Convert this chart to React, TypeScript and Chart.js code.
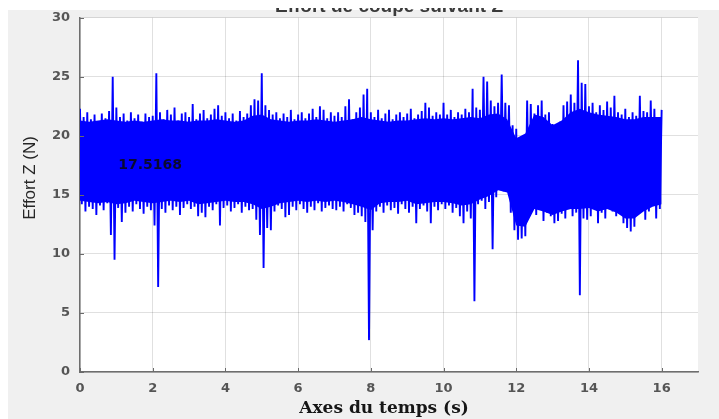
import React, { useEffect, useRef } from "react";
import { Chart, registerables } from "chart.js";

Chart.register(...registerables);

// Sampling of the read envelope: a peak at t = i*STEP, a trough at t = i*STEP + STEP/2
const T_STEP = 0.1;

// Upper peaks of the signal (N), one per 0.1 s from 0.0 s to 16.0 s
const HIGH_PEAKS = [
  22.3, 21.6, 22.0, 21.4, 21.8, 21.2, 21.9, 21.5, 22.1, 25.0,
  22.4, 21.6, 21.9, 21.3, 22.0, 21.5, 21.8, 21.2, 21.9, 21.6,
  21.7, 25.3, 22.0, 21.4, 22.2, 21.8, 22.4, 21.3, 21.9, 22.0,
  21.6, 22.7, 21.4, 21.9, 22.2, 21.5, 21.8, 22.3, 22.6, 21.7,
  22.0, 21.5, 21.9, 21.3, 22.1, 21.6, 21.9, 22.6, 23.1, 23.0,
  25.3, 22.6, 22.2, 21.8, 22.0, 21.5, 21.9, 21.6, 22.2, 21.4,
  21.8, 22.0, 21.5, 21.9, 22.3, 21.6, 22.5, 22.2, 21.5, 22.0,
  21.7, 22.0, 21.6, 22.5, 23.1, 21.4, 22.0, 22.4, 23.5, 24.0,
  22.0, 21.6, 22.2, 21.5, 21.9, 22.2, 21.4, 21.8, 22.0, 21.6,
  21.9, 22.3, 21.5, 21.8, 22.1, 22.8, 22.4, 21.7, 22.0, 21.8,
  22.8, 21.8, 22.2, 21.6, 22.0, 21.8, 22.3, 22.0, 24.0, 22.4,
  22.2, 25.0, 24.6, 23.0, 22.5, 22.8, 25.2, 22.8, 22.6, 20.9,
  20.6, 19.4, 20.0, 23.0, 22.7, 21.9, 22.6, 23.0, 21.8, 22.0,
  21.0, 20.5, 21.2, 22.6, 22.9, 23.5, 22.8, 26.4, 24.5, 24.4,
  22.5, 22.8, 22.0, 22.6, 22.2, 22.9, 22.4, 23.4, 22.0, 21.8,
  22.3, 21.6, 22.0, 21.7, 23.4, 22.1, 22.0, 23.0, 22.3, 21.6,
  22.2,
];

// Lower troughs of the signal (N), one per 0.1 s from 0.05 s to 15.95 s
const LOW_TROUGHS = [
  14.2, 13.6, 14.0, 13.8, 13.3, 14.1, 13.7, 14.3, 11.6, 9.5,
  13.9, 12.7, 13.5, 14.0, 13.6, 14.2, 13.8, 13.4, 14.0, 13.7,
  12.4, 7.2, 13.8, 13.5, 14.1, 13.7, 14.0, 13.3, 13.9, 14.2,
  13.8, 14.0, 13.2, 13.5, 13.1, 14.0, 13.7, 14.2, 12.4, 13.9,
  14.1, 13.6, 13.9, 14.2, 13.5, 14.0, 13.7, 13.8, 12.9, 11.6,
  8.8, 12.2, 12.0, 13.6, 14.1, 13.8, 13.1, 13.3, 14.0, 13.7,
  14.2, 13.8, 13.5, 14.0, 13.7, 14.3, 13.6, 13.9, 14.1, 13.8,
  13.7, 14.0, 13.6, 14.2, 13.9, 13.3, 13.5, 13.2, 12.7, 2.7,
  12.0, 13.6, 14.0, 13.5, 14.1, 13.7, 13.9, 13.4, 14.2, 13.8,
  13.5, 14.0, 12.6, 13.8, 14.1, 13.6, 12.6, 14.0, 13.7, 14.2,
  13.8, 14.1, 13.5, 13.9, 13.2, 12.6, 13.6, 13.0, 6.0, 14.2,
  14.5, 13.8, 14.4, 10.4, 14.8, 15.5, 15.3, 15.6, 13.5, 12.0,
  11.2, 11.3, 11.5, 13.6, 14.0, 13.3, 13.8, 12.8, 13.5, 13.2,
  12.6, 12.8, 13.4, 13.0, 13.8, 13.2, 13.5, 6.5, 13.0, 12.9,
  13.2, 14.0, 12.6, 13.5, 13.0, 14.1, 13.6, 13.2, 14.0, 12.6,
  12.2, 11.9, 12.3, 13.4, 14.0, 12.9, 13.6, 14.2, 13.0, 13.8,
];

// Solid (dense) part of the signal band, read every 0.25 s from 0 s to 16 s
const CORE_STEP = 0.25;
const CORE_TOP = [
  21.3, 21.2, 21.3, 21.4, 21.3, 21.2, 21.3, 21.2, 21.3, 21.4,
  21.3, 21.3, 21.2, 21.3, 21.3, 21.4, 21.3, 21.2, 21.3, 21.7,
  21.8, 21.4, 21.3, 21.2, 21.3, 21.3, 21.4, 21.3, 21.2, 21.3,
  21.4, 21.6, 21.4, 21.3, 21.2, 21.3, 21.3, 21.4, 21.5, 21.4,
  21.5, 21.4, 21.5, 21.6, 21.5, 21.8, 21.9, 21.4, 19.8, 20.2,
  21.8, 21.6, 20.9, 21.3, 22.0, 22.3, 22.0, 21.8, 21.7, 21.6,
  21.4, 21.4, 21.6, 21.6, 21.6,
];
const CORE_BOTTOM = [
  14.5, 14.4, 14.3, 14.4, 14.2, 14.3, 14.5, 14.4, 14.3, 14.4,
  14.5, 14.4, 14.5, 14.2, 14.3, 14.4, 14.5, 14.4, 14.4, 14.2,
  13.8, 14.0, 14.3, 14.4, 14.5, 14.4, 14.5, 14.4, 14.5, 14.4,
  14.2, 14.0, 13.7, 14.3, 14.4, 14.4, 14.5, 14.2, 14.3, 14.4,
  14.4, 14.3, 14.1, 14.2, 14.6, 14.9, 15.4, 15.2, 12.4, 12.3,
  13.8, 13.6, 13.3, 13.6, 13.8, 13.8, 13.9, 13.6, 13.8, 13.5,
  13.0, 13.0, 13.6, 14.0, 14.2,
];

const X_MIN = 0;
const X_MAX = 17;
const X_STEP = 2;
const Y_MIN = 0;
const Y_MAX = 30;
const Y_STEP = 5;

const TITLE = "Effort de coupe suivant Z";
const X_TITLE = "Axes du temps (s)";
const Y_TITLE = "Effort Z (N)";
const MEAN_LABEL = "17.5168";
const MEAN_VALUE = 17.5168;
const MEAN_LABEL_T = 1.05;

const W = 719;
const H = 419;

export default function App() {
  const ref = useRef<HTMLCanvasElement | null>(null);

  useEffect(() => {
    const canvas = ref.current;
    if (!canvas) return;

    const points: { x: number; y: number }[] = [];
    for (let i = 0; i < HIGH_PEAKS.length; i++) {
      points.push({ x: i * T_STEP, y: HIGH_PEAKS[i] });
      if (i < LOW_TROUGHS.length) points.push({ x: i * T_STEP + T_STEP / 2, y: LOW_TROUGHS[i] });
    }
    const coreTop = CORE_TOP.map((v, i) => ({ x: i * CORE_STEP, y: v }));
    const coreBottom = CORE_BOTTOM.map((v, i) => ({ x: i * CORE_STEP, y: v }));

    const deco = {
      id: "deco",
      beforeDraw(chart: any) {
        const { ctx, chartArea: a, width, height } = chart;
        ctx.save();
        ctx.fillStyle = "#ffffff";
        ctx.fillRect(0, 0, width, height);
        ctx.fillStyle = "#f0f0f0";
        ctx.fillRect(8, 10, width - 8, height - 10);
        ctx.fillStyle = "#ffffff";
        ctx.fillRect(a.left, a.top, a.right - a.left, a.bottom - a.top);
        // title, cut off at the top as in the reference
        ctx.beginPath();
        ctx.rect(0, 8, width, 8);
        ctx.clip();
        ctx.fillStyle = "#3a3a3a";
        ctx.font = 'bold 19px "Liberation Sans", Arial, sans-serif';
        ctx.textAlign = "center";
        ctx.textBaseline = "alphabetic";
        ctx.fillText(TITLE, (a.left + a.right) / 2, 12);
        ctx.restore();
      },
      afterDraw(chart: any) {
        const { ctx, chartArea: a } = chart;
        const xs = chart.scales.x;
        const ys = chart.scales.y;
        ctx.save();
        // inward tick marks
        ctx.strokeStyle = "#6a6a6a";
        ctx.lineWidth = 1;
        ys.ticks.forEach((t: any) => {
          const y = Math.round(ys.getPixelForValue(t.value)) + 0.5;
          ctx.beginPath();
          ctx.moveTo(a.left, y);
          ctx.lineTo(a.left + 4, y);
          ctx.stroke();
        });
        xs.ticks.forEach((t: any) => {
          const x = Math.round(xs.getPixelForValue(t.value)) + 0.5;
          ctx.beginPath();
          ctx.moveTo(x, a.bottom);
          ctx.lineTo(x, a.bottom - 4);
          ctx.stroke();
        });
        // mean value label
        ctx.fillStyle = "#0a0a30";
        ctx.font = 'bold 14px "DejaVu Sans", sans-serif';
        ctx.textAlign = "left";
        ctx.textBaseline = "middle";
        ctx.fillText(MEAN_LABEL, xs.getPixelForValue(MEAN_LABEL_T), ys.getPixelForValue(MEAN_VALUE));
        // x title
        ctx.fillStyle = "#161616";
        ctx.font = 'bold 17px "DejaVu Serif", serif';
        ctx.textAlign = "center";
        ctx.textBaseline = "alphabetic";
        ctx.fillText(X_TITLE, 384, 413);
        // y title
        ctx.translate(30, 178);
        ctx.rotate(-Math.PI / 2);
        ctx.fillStyle = "#262626";
        ctx.font = '17px "Liberation Sans", Arial, sans-serif';
        ctx.textAlign = "center";
        ctx.textBaseline = "middle";
        ctx.fillText(Y_TITLE, 0, 0);
        ctx.restore();
      },
    };

    const tickFont = { family: '"DejaVu Sans", sans-serif', size: 13, weight: "bold" as const };

    const chart = new Chart(canvas, {
      type: "line",
      data: {
        datasets: [
          {
            label: "Effort Z",
            data: points,
            borderColor: "#0000ff",
            borderWidth: 1.9,
            pointRadius: 0,
            tension: 0,
            fill: false,
          },
          {
            label: "core top",
            data: coreTop,
            borderWidth: 0,
            borderColor: "rgba(0,0,0,0)",
            backgroundColor: "#0000ff",
            pointRadius: 0,
            tension: 0,
            fill: "+1",
          },
          {
            label: "core bottom",
            data: coreBottom,
            borderWidth: 0,
            borderColor: "rgba(0,0,0,0)",
            pointRadius: 0,
            tension: 0,
            fill: false,
          },
        ],
      },
      options: {
        responsive: false,
        maintainAspectRatio: false,
        animation: false,
        devicePixelRatio: 1,
        layout: { padding: { left: 0, top: 17, right: 21, bottom: 0 } },
        plugins: { legend: { display: false }, tooltip: { enabled: false }, title: { display: false } },
        scales: {
          x: {
            type: "linear",
            min: X_MIN,
            max: X_MAX,
            ticks: { stepSize: X_STEP, includeBounds: false, color: "#555555", font: tickFont, padding: 9, maxRotation: 0 },
            grid: { color: "rgba(0,0,0,0.12)", lineWidth: 1, drawTicks: false },
            border: { display: true, color: "#6e6e6e", width: 1.5 },
            afterFit: (s: any) => {
              s.height = 47;
            },
          },
          y: {
            type: "linear",
            min: Y_MIN,
            max: Y_MAX,
            ticks: { stepSize: Y_STEP, color: "#555555", font: tickFont, padding: 10 },
            grid: { color: "rgba(0,0,0,0.12)", lineWidth: 1, drawTicks: false },
            border: { display: true, color: "#6e6e6e", width: 1.5 },
            afterFit: (s: any) => {
              s.width = 80;
            },
          },
        },
      },
      plugins: [deco],
    });

    return () => chart.destroy();
  }, []);

  return (
    <div style={{ position: "fixed", left: 0, top: 0, width: W, height: H, background: "#ffffff" }}>
      <canvas ref={ref} width={W} height={H} style={{ display: "block", width: W, height: H }} />
    </div>
  );
}
